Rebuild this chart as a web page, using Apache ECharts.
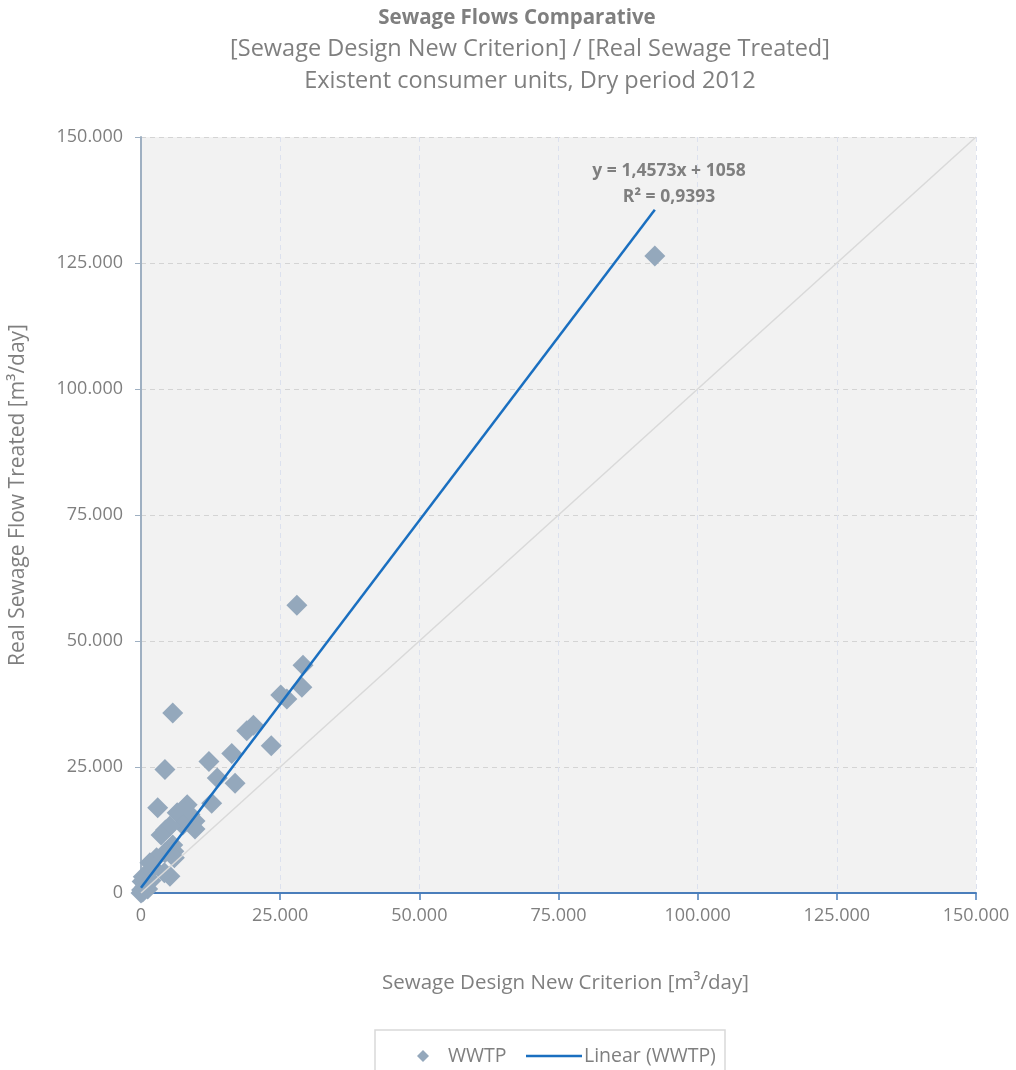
<!DOCTYPE html>
<html>
<head>
<meta charset="utf-8">
<script src="https://cdn.jsdelivr.net/npm/echarts@6/dist/echarts.min.js"></script>
<style>html,body{margin:0;padding:0;background:#fff}#c{width:1016px;height:1070px}</style>
</head>
<body>
<div id="c"></div>
<script>
// WWTP points: [design new criterion, real sewage treated] (m3/day)
const wwtpPoints = [
  [92300,126400],[28000,57100],[29100,45200],[28900,40800],[25100,39300],[26200,38500],
  [5700,35700],[20200,33300],[19000,32200],[23400,29200],[16300,27700],[12200,26100],
  [4300,24500],[13700,22800],[16900,21800],[12700,17800],[8300,17500],[3000,16900],
  [6500,15900],[8800,15600],[9700,14300],[9700,12700],[7500,13500],[5200,13300],
  [4400,12500],[3600,11500],[5700,9500],[5900,8300],[4300,8000],[2800,7000],
  [1600,6000],[6000,7000],[2200,5000],[5200,3300],[4200,4000],[400,3200],
  [200,2300],[700,1300],[1200,800],[100,600],[0,0],[300,200],[1800,2500]
];
const trendLine = [[0,1058],[92300,135567]];
const diagonalLine = [[0,0],[150000,150000]];
const tickLabels = ['0','25.000','50.000','75.000','100.000','125.000','150.000'];
const titleText = 'Sewage Flows Comparative';
const subtitleLines = ['[Sewage Design New Criterion] / [Real Sewage Treated]','Existent consumer units, Dry period 2012'];
const equationLines = ['y = 1,4573x + 1058','R² = 0,9393'];

const FONT = '"Open Sans", sans-serif';
const GREY = '#7f7f7f';
const fmt = v => tickLabels[Math.round(v/25000)];

const chart = echarts.init(document.getElementById('c'));
chart.setOption({
  backgroundColor:'#ffffff',
  animation:false,
  textStyle:{fontFamily:FONT},
  grid:{left:141,right:40,top:137,bottom:177,show:true,backgroundColor:'#f2f2f2',borderWidth:0},
  xAxis:{
    type:'value',min:0,max:150000,interval:25000,
    name:'Sewage Design New Criterion [m³/day]',nameLocation:'middle',nameGap:80,
    nameTextStyle:{fontFamily:FONT,fontSize:20.5,color:GREY,padding:[0,0,0,14]},
    axisLine:{show:true,onZero:false,lineStyle:{color:'#4a7ebb',width:2}},
    axisTick:{show:true,length:7,lineStyle:{color:'#4a7ebb',width:1.5}},
    axisLabel:{formatter:fmt,fontFamily:FONT,fontSize:18,color:GREY,margin:14},
    splitLine:{show:true,lineStyle:{color:'#dce1ee',type:[5,4],width:1}}
  },
  yAxis:{
    type:'value',min:0,max:150000,interval:25000,
    name:'Real Sewage Flow Treated [m³/day]',nameLocation:'middle',nameGap:112,
    nameTextStyle:{fontFamily:FONT,fontSize:21,color:GREY,padding:[0,0,0,40]},
    axisLine:{show:true,onZero:false,lineStyle:{color:'#9fb0c2',width:2}},
    axisTick:{show:true,length:6,lineStyle:{color:'#9fb0c2',width:1}},
    axisLabel:{formatter:fmt,fontFamily:FONT,fontSize:18,color:GREY,margin:18},
    splitLine:{show:true,lineStyle:{color:'#d4d4d4',type:[5,4],width:1}}
  },
  legend:[
    {data:[{name:'WWTP',icon:'diamond'}],left:412,top:1041,itemWidth:12,itemHeight:12,itemGap:10,
     textStyle:{fontFamily:FONT,fontSize:19.5,color:GREY,padding:[0,0,0,14]}},
    {data:[{name:'Linear (WWTP)',icon:'rect'}],left:521,top:1041,itemWidth:56,itemHeight:2.5,
     textStyle:{fontFamily:FONT,fontSize:19.5,color:GREY,padding:[0,0,0,-3]}}
  ],
  graphic:[
    {type:'text',x:517,y:18,style:{text:titleText,fill:GREY,font:'bold 20.5px "Open Sans", sans-serif',textAlign:'center',textVerticalAlign:'middle'},silent:true},
    {type:'text',x:530,y:49,style:{text:subtitleLines[0],fill:GREY,font:'23.5px "Open Sans", sans-serif',textAlign:'center',textVerticalAlign:'middle'},silent:true},
    {type:'text',x:530,y:81,style:{text:subtitleLines[1],fill:GREY,font:'23.5px "Open Sans", sans-serif',textAlign:'center',textVerticalAlign:'middle'},silent:true},
    {type:'rect',shape:{x:375,y:1030,width:350,height:60},style:{fill:'none',stroke:'#d9d9d9',lineWidth:1.5},silent:true},
    {type:'text',x:669,y:158,style:{text:equationLines.join('\n'),fill:GREY,font:'bold 17.5px "Open Sans", sans-serif',textAlign:'center',lineHeight:26},z:100}
  ],
  series:[
    {name:'WWTP',type:'scatter',data:wwtpPoints,symbol:'diamond',symbolSize:21,
     itemStyle:{color:'#94a8bc',opacity:1},z:2},
    {name:'Diagonal',type:'line',data:diagonalLine,symbol:'none',silent:true,
     lineStyle:{color:'#d9d9d9',width:1.5},z:3},
    {name:'Linear (WWTP)',type:'line',data:trendLine,symbol:'none',
     lineStyle:{color:'#1a6fc0',width:2.5},itemStyle:{color:'#1a6fc0'},z:4}
  ]
});
</script>
</body>
</html>
